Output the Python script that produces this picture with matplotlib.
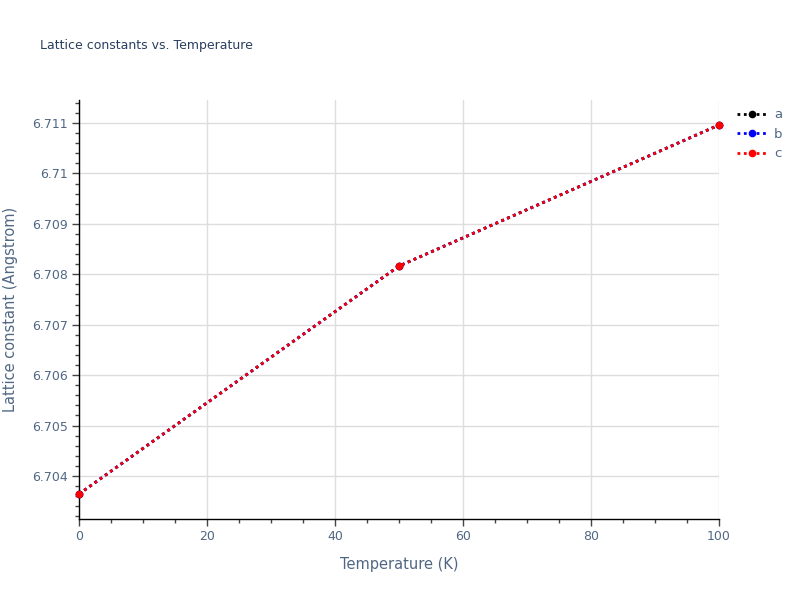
import numpy as np
import matplotlib
matplotlib.use("Agg")
import matplotlib.pyplot as plt
from matplotlib.ticker import MultipleLocator, FuncFormatter

# --- datos ---
temperature = [0, 50, 100]
lat_a = [6.703643, 6.708163, 6.710960]
lat_b = [6.703643, 6.708163, 6.710960]
lat_c = [6.703643, 6.708163, 6.710960]
series_names = ["a", "b", "c"]
series_colors = ["black", "blue", "red"]

TEXT_COLOR = "#2a3f5f"
TICK_COLOR = "#506784"

plt.rcParams['font.family'] = ['DejaVu Sans']

fig = plt.figure(figsize=(8, 6), dpi=100)
ax = fig.add_axes([79 / 800, 1 - 519 / 600, 640 / 800, 419 / 600])

for vals, name, col in zip([lat_a, lat_b, lat_c], series_names, series_colors):
    ax.plot(temperature, vals, linestyle=(0, (1, 1.3)), linewidth=2, color=col,
            marker='o', markersize=4.5, label=name, clip_on=False, zorder=3)

ax.set_xlim(0, 100)
ax.set_ylim(6.703147, 6.711456)

ax.xaxis.set_major_locator(MultipleLocator(20))
ax.xaxis.set_minor_locator(MultipleLocator(5))
ax.yaxis.set_major_locator(MultipleLocator(0.001))
ax.yaxis.set_minor_locator(MultipleLocator(0.0002))
ax.yaxis.set_major_formatter(FuncFormatter(lambda v, p: f"{v:.3f}".rstrip('0')))

ax.grid(True, which='major', color='#dddddd', linewidth=1, zorder=0)
ax.set_axisbelow(True)

for side in ['top', 'right']:
    ax.spines[side].set_visible(False)
for side in ['left', 'bottom']:
    ax.spines[side].set_color('black')
    ax.spines[side].set_linewidth(1)

ax.tick_params(which='major', direction='out', length=5, width=1, color='#444444',
               labelsize=9, labelcolor=TICK_COLOR, pad=3)
ax.tick_params(which='minor', direction='out', length=3, width=1, color='#444444')

ax.set_xlabel("Temperature (K)", fontsize=10.5, color=TICK_COLOR, labelpad=10)
ax.set_ylabel("Lattice constant (Angstrom)", fontsize=10.5, color=TICK_COLOR, labelpad=10)

fig.text(40 / 800, 1 - 45 / 600, "Lattice constants vs. Temperature", fontsize=9,
         color=TEXT_COLOR, va='center', ha='left')

leg = ax.legend(loc='upper left', bbox_to_anchor=(1.02, 0.993), frameon=False,
                fontsize=9.5, labelcolor=TICK_COLOR, handlelength=2.2,
                handletextpad=0.6, labelspacing=0.5, borderaxespad=0)

fig.savefig("out.png", dpi=100)
